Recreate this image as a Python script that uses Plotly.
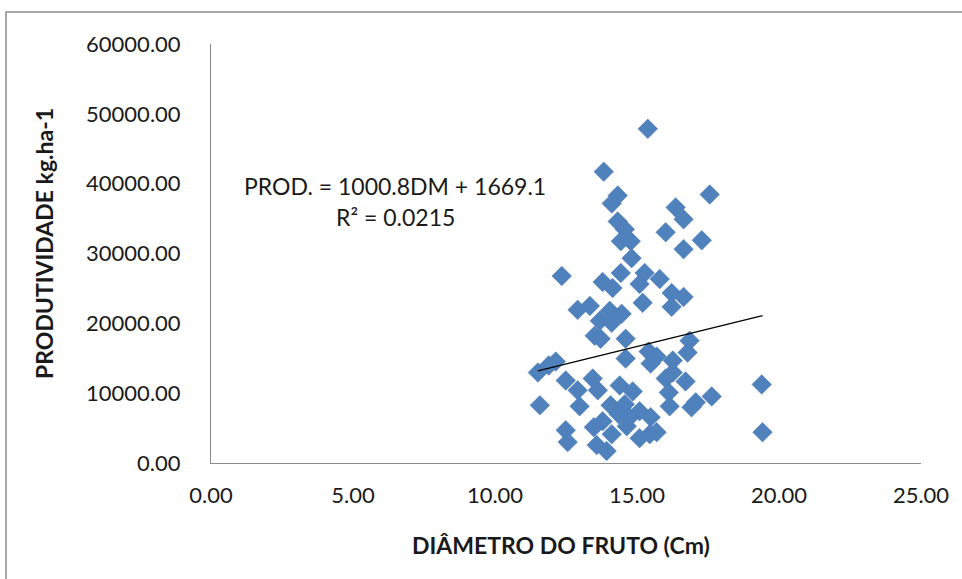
import plotly.graph_objects as go

# Fruit diameter (cm) and yield (kg/ha) for each sampled plant
diametro = [
    15.38, 13.83, 14.32, 14.11, 17.56, 16.36, 16.64, 14.32, 14.57, 16.01,
    17.28, 14.43, 14.78, 14.81, 16.64, 12.35, 14.43, 15.27, 15.80, 13.79,
    14.14, 15.09, 16.22, 16.64, 16.22, 13.34, 12.91, 14.04, 14.46, 15.20,
    13.69, 14.11, 13.51, 14.60, 15.41, 15.69, 16.85, 16.78, 13.72, 12.14,
    11.89, 11.51, 14.60, 15.48, 16.26, 16.26, 16.01, 16.71, 12.49, 12.91,
    13.44, 13.62, 14.39, 14.85, 16.12, 17.63, 17.07, 16.92, 19.39, 11.58,
    12.98, 14.07, 14.57, 15.09, 14.36, 14.74, 15.48, 13.79, 13.48, 14.11,
    15.45, 15.69, 15.09, 12.49, 12.56, 13.58, 13.93, 19.42, 16.15, 14.64,
]
produtividade = [
    47850, 41720, 38300, 37170, 38450, 36600, 34890, 34600, 33460, 33040,
    31900, 31760, 31760, 29330, 30620, 26770, 27200, 27200, 26340, 25920,
    25060, 25630, 24350, 23780, 22360, 22500, 21930, 21790, 21360, 22930,
    20360, 20080, 18230, 17800, 15950, 15240, 17520, 15810, 17800, 14520,
    13960, 12960, 14950, 14240, 14670, 12960, 12100, 11680, 11820, 10400,
    12100, 10400, 11110, 10250, 10110, 9540, 8690, 7970, 11250, 8260,
    8120, 8260, 8400, 7400, 6980, 6550, 6550, 5980, 5130, 4130,
    4130, 4410, 3560, 4700, 2990, 2560, 1710, 4410, 8120, 5270,
]

# Linear trend reported on the chart
slope = 1000.8
intercept = 1669.1
r2 = 0.0215

x_ticks = [0, 5, 10, 15, 20, 25]
y_ticks = [0, 10000, 20000, 30000, 40000, 50000, 60000]

trend_x = [min(diametro), max(diametro)]
trend_y = [slope * v + intercept for v in trend_x]

font_family = "Lato, 'Liberation Sans', sans-serif"

fig = go.Figure()
fig.add_trace(go.Scatter(
    x=diametro, y=produtividade, mode="markers",
    marker=dict(symbol="diamond", size=15, color="#4F81BD",
                line=dict(width=0.6, color="#4A7CB8")),
    showlegend=False, hoverinfo="x+y",
))
fig.add_trace(go.Scatter(
    x=trend_x, y=trend_y, mode="lines",
    line=dict(color="black", width=1.3),
    showlegend=False, hoverinfo="skip",
))

W, H = 962, 579
ml, mr, mt, mb = 211, 41, 44, 116
pw, ph = W - ml - mr, H - mt - mb


def px_x(p):
    return (p - ml) / pw


def px_y(p):
    return (H - mb - p) / ph


fig.update_layout(
    width=W, height=H,
    margin=dict(l=ml, r=mr, t=mt, b=mb, pad=0),
    paper_bgcolor="white", plot_bgcolor="white",
    font=dict(family=font_family, size=22, color="#1a1a1a"),
    xaxis=dict(
        range=[0, 25], tickvals=x_ticks, tickformat=".2f",
        showgrid=False, zeroline=False, showline=True,
        linecolor="#8a8a8a", linewidth=1, ticks="",
        ticklabelstandoff=13, tickfont=dict(size=22),
    ),
    yaxis=dict(
        range=[0, 60000], tickvals=y_ticks, tickformat=".2f",
        showgrid=False, zeroline=False, showline=True,
        linecolor="#8a8a8a", linewidth=1, ticks="",
        ticklabelstandoff=25, tickfont=dict(size=22),
    ),
    shapes=[dict(
        type="rect", xref="paper", yref="paper",
        x0=px_x(6), x1=px_x(990), y0=px_y(600), y1=px_y(12),
        line=dict(color="#8c8c8c", width=1.5), fillcolor="rgba(0,0,0,0)",
        layer="below",
    )],
    annotations=[
        dict(text=f"PROD. = {slope}DM + {intercept}", xref="paper", yref="paper",
             x=px_x(395), y=px_y(186), showarrow=False,
             xanchor="center", yanchor="middle", font=dict(size=23)),
        dict(text=f"R² = {r2}", xref="paper", yref="paper",
             x=px_x(395), y=px_y(217), showarrow=False,
             xanchor="center", yanchor="middle", font=dict(size=23)),
        dict(text="<b>DIÂMETRO DO FRUTO (Cm)</b>", xref="paper", yref="paper",
             x=px_x(561), y=px_y(545), showarrow=False,
             xanchor="center", yanchor="middle", font=dict(size=23)),
        dict(text="<b>PRODUTIVIDADE kg.ha-1</b>", xref="paper", yref="paper",
             x=px_x(44), y=px_y(244), showarrow=False, textangle=-90,
             xanchor="center", yanchor="middle", font=dict(size=23)),
    ],
)

fig.write_html("out.html")
